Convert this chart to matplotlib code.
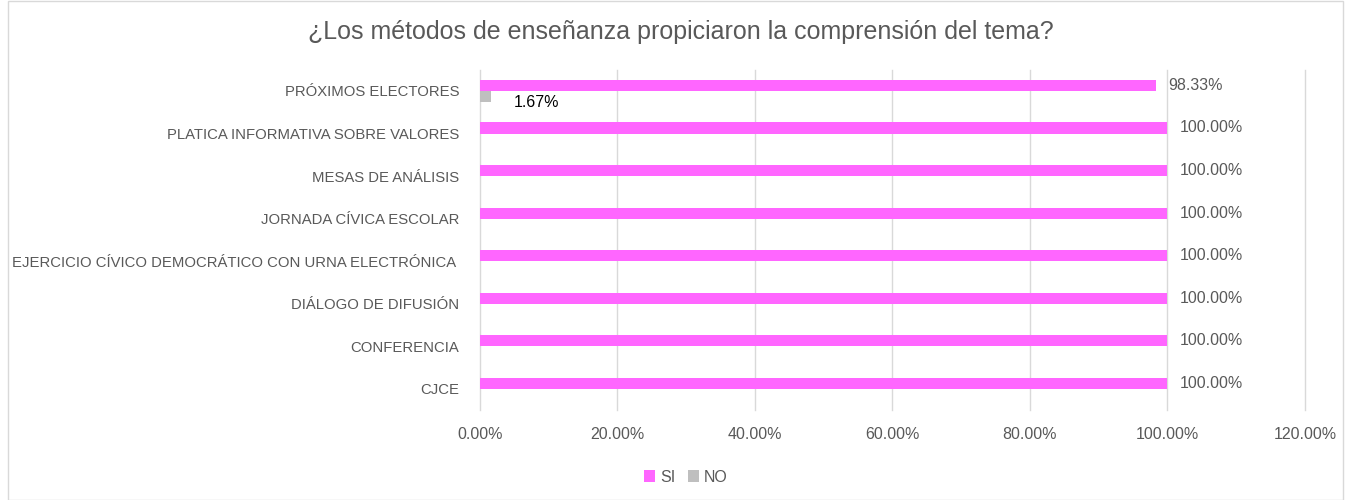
import numpy as np
import matplotlib.pyplot as plt

categorias = [
    "PRÓXIMOS ELECTORES",
    "PLATICA INFORMATIVA SOBRE VALORES",
    "MESAS DE ANÁLISIS",
    "JORNADA CÍVICA ESCOLAR",
    "EJERCICIO CÍVICO DEMOCRÁTICO CON URNA ELECTRÓNICA ",
    "DIÁLOGO DE DIFUSIÓN",
    "CONFERENCIA",
    "CJCE",
]
si = [98.33, 100, 100, 100, 100, 100, 100, 100]
no = [1.67, 0, 0, 0, 0, 0, 0, 0]

plt.rcParams['font.family'] = ['Liberation Sans', 'DejaVu Sans']

fig = plt.figure(figsize=(13.48, 5.0), dpi=100)
ax = fig.add_axes([0.356, 0.18, 0.612, 0.6806])

y = np.arange(len(categorias))
h = 0.26
ax.barh(y - h / 2, si, height=h, color='#FF66FF', label='SI', zorder=3)
ax.barh(y + h / 2, no, height=h, color='#BFBFBF', label='NO', zorder=3)

for yi, v in zip(y, si):
    ax.annotate(f"{v:.2f}%", (v, yi - h / 2), xytext=(9, 0), textcoords='offset points',
                ha='left', va='center', fontsize=11.5, color='#595959')
for yi, v in zip(y, no):
    if v > 0:
        ax.annotate(f"{v:.2f}%", (v, yi + h / 2), xytext=(16, -4), textcoords='offset points',
                    ha='left', va='center', fontsize=11.5, color='#000000')

ax.set_xlim(0, 120)
ax.set_ylim(len(categorias) - 0.5, -0.5)
ax.set_xticks(np.arange(0, 121, 20))
ax.set_xticklabels([f"{t:.2f}%" for t in np.arange(0, 121, 20)])
ax.set_yticks(y)
ax.set_yticklabels(categorias)
ax.tick_params(axis='both', length=0, labelsize=11.5, labelcolor='#595959')
ax.tick_params(axis='y', labelsize=10.7, pad=15)
ax.tick_params(axis='x', pad=12)
ax.grid(axis='x', color='#D9D9D9', linewidth=1, zorder=0)
for line in ax.get_xgridlines():
    line.set_clip_on(False)
for s in ax.spines.values():
    s.set_visible(False)

fig.suptitle("¿Los métodos de enseñanza propiciaron la comprensión del tema?",
             x=0.505, y=0.96, fontsize=18, color='#595959')

handles, labels = ax.get_legend_handles_labels()
fig.legend(handles, labels, loc='center', bbox_to_anchor=(0.509, 0.046), ncol=2, frameon=False,
           fontsize=11.5, labelcolor='#595959', handlelength=0.7, handleheight=0.7,
           handletextpad=0.3, columnspacing=0.8)

fig.patches.append(plt.Rectangle((0.006, 0.0), 0.99, 0.998, transform=fig.transFigure,
                                 fill=False, edgecolor='#D9D9D9', linewidth=1))

fig.savefig("out.png", dpi=100)
